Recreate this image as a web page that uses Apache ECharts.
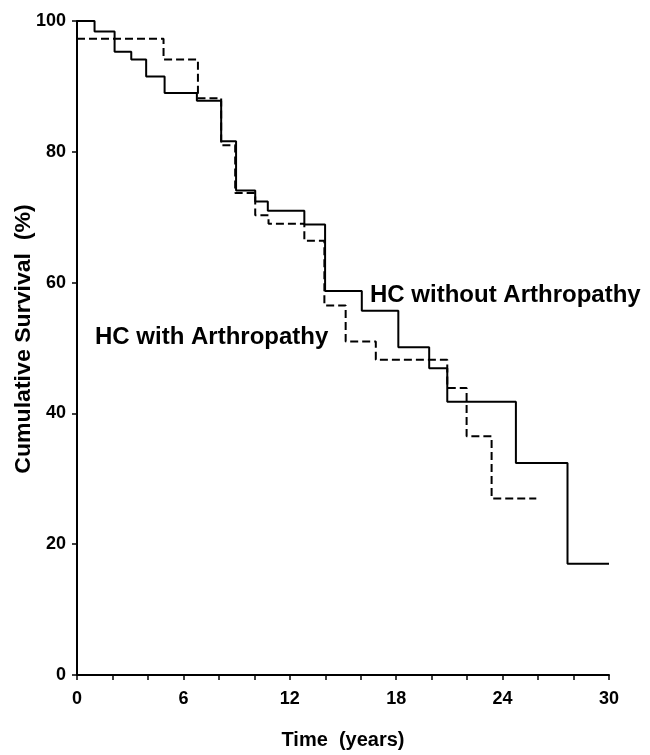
<!DOCTYPE html>
<html>
<head>
<meta charset="utf-8">
<script src="https://cdn.jsdelivr.net/npm/echarts@6/dist/echarts.min.js"></script>
<style>
  html, body { margin: 0; padding: 0; background: #fff; }
  #chart { width: 650px; height: 755px; }
</style>
</head>
<body>
<div id="chart"></div>
<script>
// Kaplan-Meier steps (years, % surviving)
const withoutTimes = [0, 0.99, 2.12, 3.06, 3.9, 4.94, 6.76, 8.13, 8.97, 10.05, 10.76, 12.82, 13.99, 16.06, 18.12, 19.86, 20.88, 24.75, 27.66, 30]
const withoutSurvival = [100, 98.4, 95.3, 94.1, 91.5, 89.0, 87.8, 81.6, 74.1, 72.4, 71.0, 68.9, 58.7, 55.7, 50.1, 46.9, 41.8, 32.4, 17.0, 17.0]

const withTimes = [0, 4.88, 6.82, 8.13, 8.92, 10.05, 10.8, 12.82, 13.95, 15.15, 16.85, 20.88, 21.97, 23.38, 25.9]
const withSurvival = [97.3, 94.1, 88.2, 81.0, 73.7, 70.3, 69.0, 66.4, 56.5, 51.0, 48.2, 43.9, 36.5, 27.0, 27.0]

const xLabels = [0, 6, 12, 18, 24, 30]

const pairs = (xs, ys) => xs.map((x, i) => [x, ys[i]])

const chart = echarts.init(document.getElementById('chart'), null, { renderer: 'canvas' })

const boldFont = '"Liberation Sans", Arial, sans-serif'
const narrowFont = '"Liberation Sans Narrow", "Liberation Sans", Arial, sans-serif'

chart.setOption({
  backgroundColor: '#fff',
  animation: false,
  grid: { left: 77, right: 41, top: 21, bottom: 78 },
  xAxis: {
    type: 'value',
    min: 0,
    max: 30,
    interval: 2,
    name: 'Time  (years)',
    nameLocation: 'middle',
    nameGap: 55,
    nameTextStyle: { color: '#000', fontSize: 20, fontWeight: 'bold', fontFamily: narrowFont },
    axisLine: { lineStyle: { color: '#000', width: 2 } },
    axisTick: { length: 5, lineStyle: { color: '#000', width: 1.5 } },
    axisLabel: {
      color: '#000',
      fontSize: 18,
      fontWeight: 'bold',
      fontFamily: boldFont,
      margin: 15,
      formatter: (v) => (xLabels.includes(v) ? String(v) : '')
    },
    splitLine: { show: false }
  },
  yAxis: {
    type: 'value',
    min: 0,
    max: 100,
    interval: 20,
    axisLine: { lineStyle: { color: '#000', width: 2 } },
    axisTick: { length: 5, lineStyle: { color: '#000', width: 1.5 } },
    axisLabel: { color: '#000', fontSize: 18, fontWeight: 'bold', fontFamily: boldFont, margin: 11 },
    splitLine: { show: false }
  },
  series: [
    {
      name: 'HC without Arthropathy',
      type: 'line',
      step: 'end',
      symbol: 'none',
      data: pairs(withoutTimes, withoutSurvival),
      lineStyle: { color: '#000', width: 2 }
    },
    {
      name: 'HC with Arthropathy',
      type: 'line',
      step: 'end',
      symbol: 'none',
      data: pairs(withTimes, withSurvival),
      lineStyle: { color: '#000', width: 2, type: [8, 4] }
    }
  ],
  graphic: [
    {
      type: 'text',
      x: 24,
      y: 339,
      rotation: Math.PI / 2,
      scaleX: 1.05,
      style: {
        text: 'Cumulative Survival  (%)',
        fill: '#000',
        font: 'bold 22px ' + boldFont,
        align: 'center',
        verticalAlign: 'middle'
      }
    },
    {
      type: 'text',
      x: 370,
      y: 295,
      style: { text: 'HC without Arthropathy', fill: '#000', font: 'bold 24px ' + boldFont, verticalAlign: 'middle' }
    },
    {
      type: 'text',
      x: 95,
      y: 337,
      style: { text: 'HC with Arthropathy', fill: '#000', font: 'bold 24px ' + boldFont, verticalAlign: 'middle' }
    }
  ]
})
</script>
</body>
</html>
